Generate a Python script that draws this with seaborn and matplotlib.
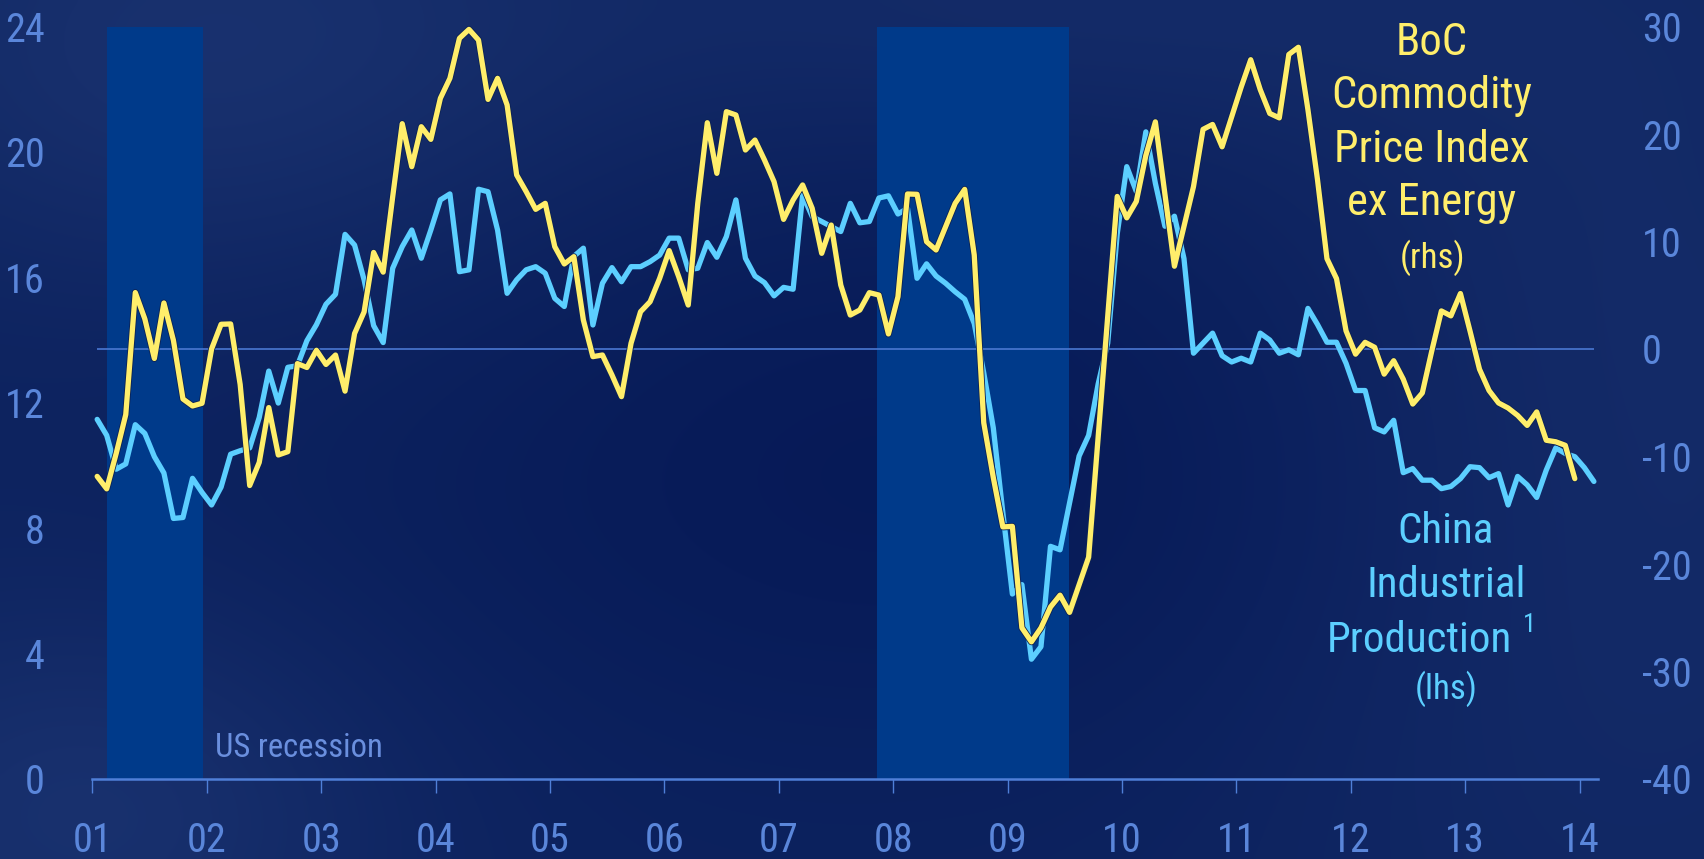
import numpy as np
import pandas as pd
import matplotlib
matplotlib.use("Agg")
import matplotlib.pyplot as plt
import matplotlib.transforms as mtransforms
import matplotlib.patheffects as pe
from matplotlib import font_manager
import seaborn as sns

# ---------------------------------------------------------------------------
# Data: monthly, starting January 2001
# China industrial production, y/y % change (left axis)
china_ip = [
    11.47, 10.96, 9.88, 10.05, 11.30, 11.02, 10.28, 9.76, 8.31, 8.34, 9.59, 9.14,
    8.74, 9.31, 10.36, 10.47, 10.56, 11.53, 13.01, 11.99, 13.13, 13.18, 13.98, 14.49,
    15.14, 15.46, 17.37, 17.03, 15.92, 14.46, 13.92, 16.29, 16.98, 17.51, 16.61, 17.51,
    18.47, 18.66, 16.18, 16.24, 18.81, 18.73, 17.51, 15.49, 15.92, 16.24, 16.34, 16.13,
    15.33, 15.07, 16.67, 16.93, 14.48, 15.81, 16.31, 15.86, 16.34, 16.34, 16.50, 16.71,
    17.25, 17.25, 16.24, 16.29, 17.11, 16.64, 17.30, 18.47, 16.61, 16.04, 15.83, 15.41,
    15.68, 15.62, 18.63, 17.94, 17.78, 17.62, 17.46, 18.36, 17.74, 17.78, 18.53, 18.60,
    18.02, 18.20, 15.97, 16.43, 16.04, 15.81, 15.54, 15.30, 14.53, 12.95, 11.20, 8.50,
    5.90, 6.20, 3.82, 4.22, 7.42, 7.31, 8.80, 10.30, 10.96, 12.60, 13.90, 17.39,
    19.53, 18.74, 20.64, 19.00, 17.63, 17.95, 16.60, 13.58, 13.90, 14.22, 13.50, 13.30,
    13.42, 13.30, 14.22, 14.00, 13.58, 13.69, 13.53, 15.01, 14.50, 13.93, 13.93, 13.26,
    12.39, 12.39, 11.20, 11.07, 11.44, 9.77, 9.90, 9.53, 9.53, 9.26, 9.33, 9.58,
    9.96, 9.93, 9.61, 9.74, 8.74, 9.65, 9.38, 8.98, 9.85, 10.56, 10.38, 10.28,
    9.93, 9.49,
]

# BoC commodity price index excluding energy, y/y % change (right axis)
boc_ex_energy = [
    -11.85, -13.01, -9.70, -6.10, 5.25, 2.80, -0.88, 4.28, 0.80, -4.65, -5.30, -5.05,
    0.00, 2.30, 2.33, -3.30, -12.70, -10.55, -5.45, -9.86, -9.55, -1.36, -1.72, -0.12,
    -1.44, -0.56, -3.92, 1.44, 3.45, 8.98, 7.15, 14.17, 20.96, 16.96, 20.68, 19.50,
    23.32, 25.18, 28.90, 29.73, 28.74, 23.22, 25.18, 22.70, 16.19, 14.64, 12.99, 13.55,
    9.52, 7.91, 8.59, 2.70, -0.71, -0.56, -2.42, -4.43, 0.53, 3.47, 4.40, 6.57,
    9.15, 6.73, 4.09, 13.55, 21.05, 16.34, 22.08, 21.77, 18.51, 19.44, 17.58, 15.57,
    12.06, 13.86, 15.26, 13.09, 8.90, 11.53, 5.95, 3.16, 3.63, 5.24, 5.02, 1.40,
    4.87, 14.42, 14.39, 9.98, 9.21, 11.38, 13.55, 14.85, 8.75, -6.87, -11.96, -16.55,
    -16.50, -25.94, -27.24, -25.94, -24.00, -22.90, -24.50, -21.92, -19.37, -8.20, 3.00, 14.19,
    12.20, 13.72, 18.00, 21.13, 14.42, 7.70, 11.41, 15.11, 20.43, 20.89, 18.81, 21.59,
    24.36, 26.91, 24.13, 21.91, 21.50, 27.40, 28.07, 22.28, 15.80, 8.40, 6.55, 1.69,
    -0.48, 0.62, 0.16, -2.34, -1.09, -2.80, -5.12, -4.09, -0.16, 3.54, 3.08, 5.16,
    1.69, -1.88, -3.86, -5.02, -5.49, -6.18, -7.11, -5.85, -8.49, -8.63, -8.96, -12.06,
]

start_month = "2001-01"

# US recessions (decimal years)
recessions = [(2001.13, 2001.97), (2007.86, 2009.54)]

year_ticks = list(range(2001, 2015))
year_labels = ["01", "02", "03", "04", "05", "06", "07",
               "08", "09", "10", "11", "12", "13", "14"]
lhs_ticks = [0, 4, 8, 12, 16, 20, 24]
rhs_ticks = [-40, -30, -20, -10, 0, 10, 20, 30]


def month_positions(n):
    """Mid-month positions in decimal years."""
    p = pd.period_range(start_month, periods=n, freq="M")
    return np.asarray(p.year + (p.month - 0.5) / 12.0, dtype=float)


ip_df = pd.DataFrame({"t": month_positions(len(china_ip)), "v": china_ip})
boc_df = pd.DataFrame({"t": month_positions(len(boc_ex_energy)), "v": boc_ex_energy})

# ---------------------------------------------------------------------------
# Styling
sns.set_theme(style="dark")
available = {f.name for f in font_manager.fontManager.ttflist}
FONT = "DejaVu Sans"
for cand in ["Liberation Sans Narrow", "Roboto Condensed", "Open Sans Condensed",
             "Noto Sans", "DejaVu Sans"]:
    if cand in available:
        FONT = cand
        break
plt.rcParams["font.family"] = [FONT, "DejaVu Sans"]
plt.rcParams["axes.unicode_minus"] = False

YELLOW = "#ffee6b"
CYAN = "#5ccfff"
AXIS_BLUE = "#4f7fd8"
TICK_TXT = "#5a86da"
SHADE = "#003a8a"

W, H = 1704, 859
fig = plt.figure(figsize=(W / 100, H / 100), dpi=100)

# navy backdrop (smooth gradient)
bg = fig.add_axes([0, 0, 1, 1], zorder=-10)
gx, gy = np.meshgrid(np.linspace(0, 1, 400), np.linspace(0, 1, 200))
base = np.array([13, 35, 95]) / 255.0
light = (0.9 * np.exp(-((gx - 0.12) ** 2 / 0.05 + (gy - 0.05) ** 2 / 0.08))
         + 0.9 * np.exp(-((gx - 0.05) ** 2 / 0.03 + (gy - 0.95) ** 2 / 0.06))
         + 0.6 * np.exp(-((gx - 0.95) ** 2 / 0.05 + (gy - 0.5) ** 2 / 0.5))
         + 0.5 * np.exp(-((gx - 0.6) ** 2 / 0.08 + (gy - 0.0) ** 2 / 0.03)))
dark = np.exp(-((gx - 0.55) ** 2 / 0.12 + (gy - 0.55) ** 2 / 0.12))
img = (base[None, None, :]
       + light[..., None] * np.array([0.05, 0.06, 0.065])[None, None, :]
       - dark[..., None] * np.array([0.025, 0.035, 0.03])[None, None, :])
bg.imshow(np.clip(img, 0, 1), aspect="auto", extent=[0, 1, 0, 1], origin="upper",
          interpolation="bicubic")
bg.set_axis_off()

# plot area in pixels: x 2001.0 -> 92.4 px, 24 (lhs) -> 26.5 px from top, 0 -> 779 px
left_px, right_px = 92.4, 1598.0
top_px, bottom_px = 26.5, 779.0
ax = fig.add_axes([left_px / W, 1 - bottom_px / H,
                   (right_px - left_px) / W, (bottom_px - top_px) / H])
ax.set_facecolor("none")
ax2 = ax.twinx()
ax2.set_facecolor("none")

x_end = 2001.0 + (right_px - left_px) / 114.4
ax.set_xlim(2001.0, x_end)
ax.set_ylim(0, 24)
ax2.set_ylim(-40, 30)

# recession bars
for a, b in recessions:
    ax.axvspan(a, b, color=SHADE, lw=0, zorder=0)

# zero line of the right-hand scale
blend = mtransforms.blended_transform_factory(ax.transData, ax2.transData)
ax.plot([ip_df["t"].iloc[0], ip_df["t"].iloc[-1]], [0, 0], transform=blend,
        color="#4a78d2", lw=1.2, zorder=1, solid_capstyle="butt")

# series
sns.lineplot(data=ip_df, x="t", y="v", ax=ax, color=CYAN, lw=3.8, zorder=3,
             clip_on=False)
sns.lineplot(data=boc_df, x="t", y="v", ax=ax2, color=YELLOW, lw=3.8, zorder=3,
             clip_on=False,
             path_effects=[pe.Stroke(linewidth=5.0, foreground="#0c2255"), pe.Normal()])

for a in (ax, ax2):
    a.set_xlabel("")
    a.set_ylabel("")
    a.grid(False)
    for s in a.spines.values():
        s.set_visible(False)

ax.spines["bottom"].set_visible(True)
ax.spines["bottom"].set_color(AXIS_BLUE)
ax.spines["bottom"].set_linewidth(1.8)

ax.set_xticks(year_ticks)
ax.set_xticklabels(year_labels)
ax.tick_params(axis="x", direction="out", length=10, width=1.0, color=AXIS_BLUE,
               labelcolor=TICK_TXT, labelsize=29, pad=20, bottom=True)
ax.set_yticks(lhs_ticks)
ax.set_yticklabels([str(v) for v in lhs_ticks])
ax.tick_params(axis="y", length=0, labelcolor=TICK_TXT, labelsize=29, pad=34.5, left=False)
ax2.set_yticks(rhs_ticks)
ax2.set_yticklabels([str(v) for v in rhs_ticks])
ax2.tick_params(axis="y", length=0, labelcolor=TICK_TXT, labelsize=29, pad=31.5, right=False)
ax2.tick_params(axis="x", bottom=False, labelbottom=False)


def ftext(x, y, s, **kw):
    fig.text(x / W, 1 - y / H, s, **kw)


# series labels
for s, yb in [("BoC", 55), ("Commodity", 108), ("Price Index", 162), ("ex Energy", 215)]:
    ftext(1432, yb, s, ha="center", va="baseline", fontsize=32, color=YELLOW)
ftext(1432, 268, "(rhs)", ha="center", va="baseline", fontsize=25, color=YELLOW)

for s, yb in [("China", 543), ("Industrial", 597)]:
    ftext(1446, yb, s, ha="center", va="baseline", fontsize=31, color=CYAN)
ftext(1512, 652, "Production", ha="right", va="baseline", fontsize=31, color=CYAN)
ftext(1523, 632, "1", ha="left", va="baseline", fontsize=19, color=CYAN)
ftext(1446, 699, "(lhs)", ha="center", va="baseline", fontsize=25, color=CYAN)

ftext(215, 757, "US recession", ha="left", va="baseline", fontsize=23.5, color="#6a8fde")

fig.savefig("out.png", dpi=100, facecolor=fig.get_facecolor())
